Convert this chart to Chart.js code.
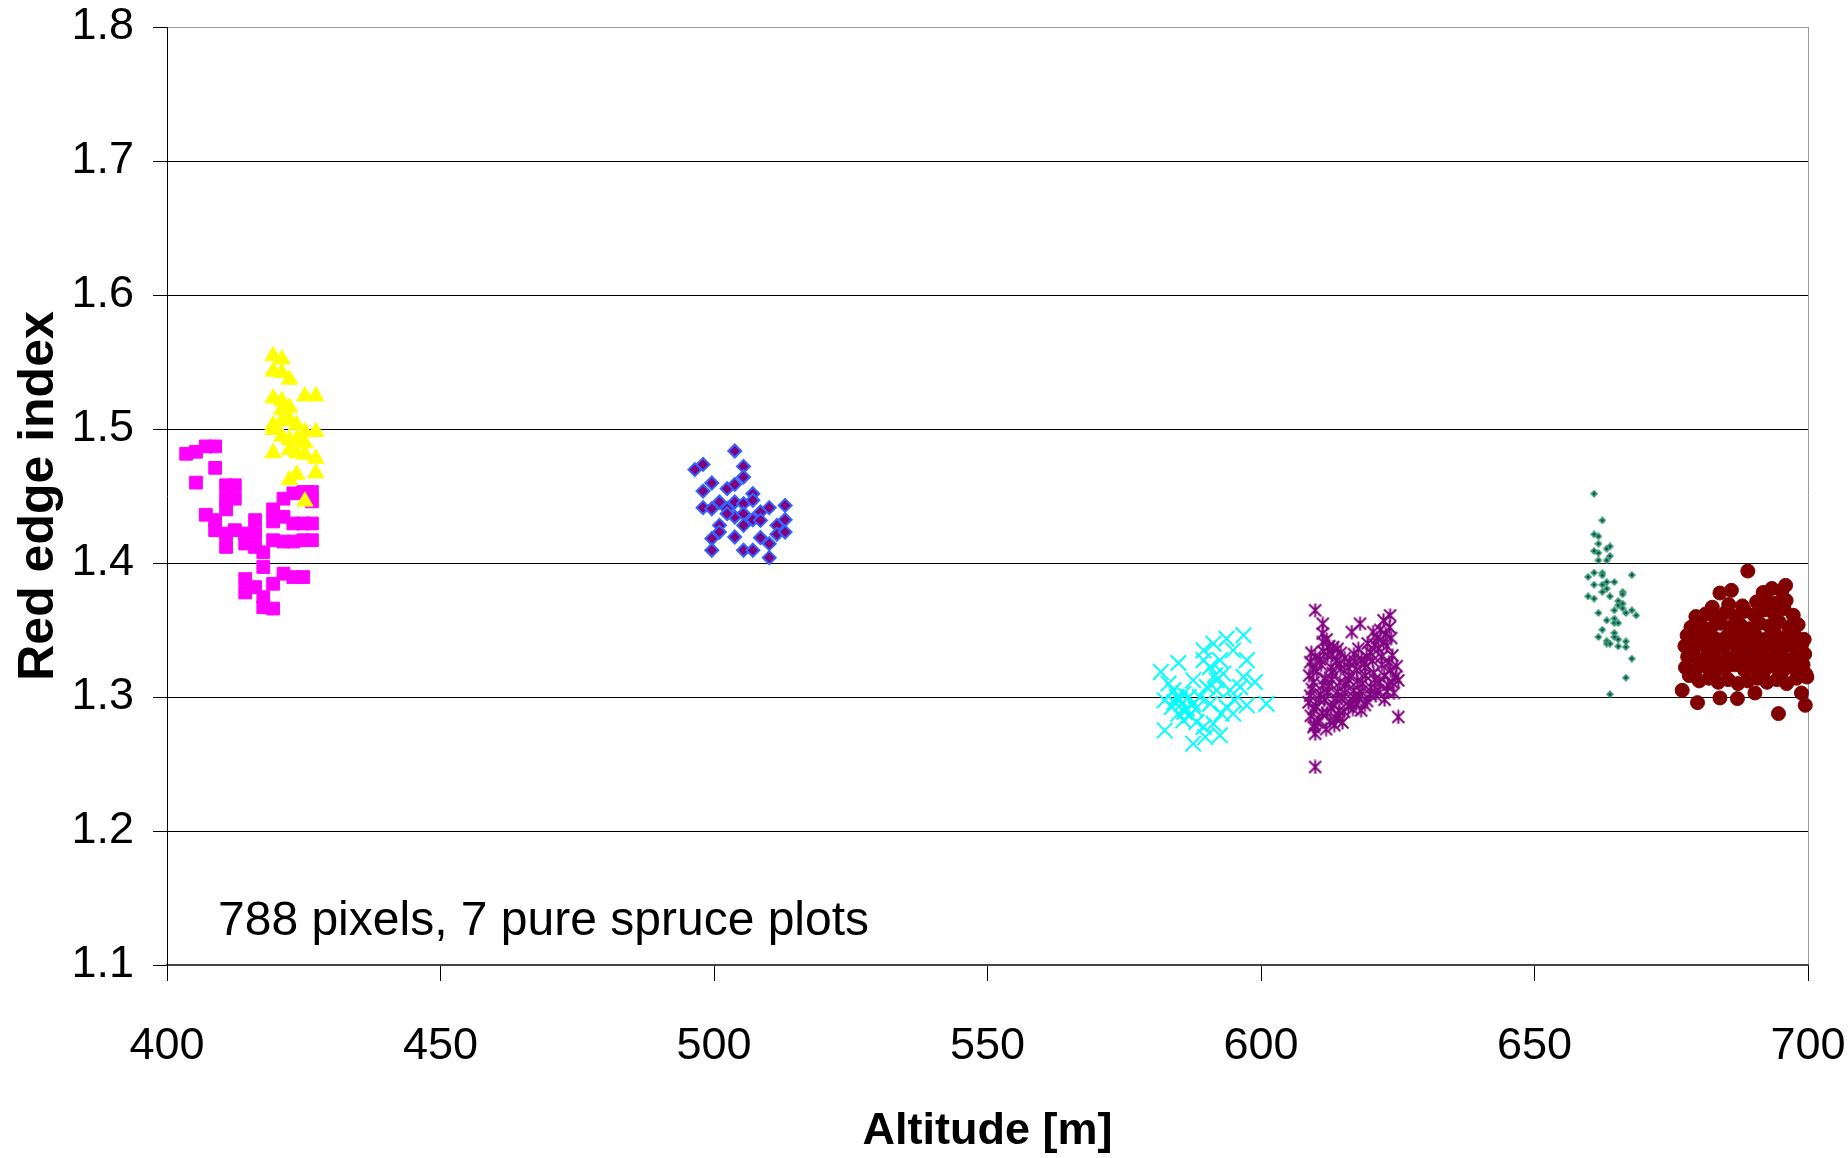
<!DOCTYPE html>
<html>
<head>
<meta charset="utf-8">
<title>Red edge index vs altitude</title>
<script src="https://cdn.jsdelivr.net/npm/chart.js@4.4.0/dist/chart.umd.min.js"></script>
<style>
  html, body { margin: 0; padding: 0; background: #fff; }
  canvas { display: block; }
</style>
</head>
<body>
<canvas id="chart" width="1848" height="1158"></canvas>
<script>
// axis ticks
const xTicks = [400, 450, 500, 550, 600, 650, 700];
const yTicks = [1.1, 1.2, 1.3, 1.4, 1.5, 1.6, 1.7, 1.8];
const noteText = '788 pixels, 7 pure spruce plots';

// plot 1 (magenta squares), ~420 m
const plotMagenta = [
  [403.5,1.4815],[405.3,1.483],[407.1,1.487],[408.8,1.487],
  [408.8,1.471],[405.3,1.46],
  [410.8,1.458],[412.4,1.458],[410.8,1.448],[412.4,1.448],
  [407.1,1.436],[408.8,1.432],[410.8,1.44],
  [408.8,1.4245],[410.8,1.422],[412.4,1.4245],[414.3,1.422],[416.1,1.432],[416.1,1.422],
  [410.8,1.412],[414.3,1.4145],[416.1,1.412],[417.6,1.408],
  [419.4,1.44],[421.3,1.448],[423.1,1.452],[424.9,1.453],[426.5,1.453],[426.5,1.446],
  [419.4,1.431],[421.3,1.4345],[423.1,1.4295],[424.9,1.4295],[426.5,1.4295],
  [419.4,1.417],[421.3,1.416],[423.1,1.416],[424.9,1.417],[426.5,1.417],
  [417.6,1.397],
  [414.3,1.388],[416.1,1.382],[414.3,1.378],
  [419.4,1.3845],[421.3,1.392],[423.1,1.3895],[424.9,1.3895],
  [417.6,1.3745],[419.4,1.366],[417.6,1.367]
];

// plot 2 (yellow triangles)
const plotYellow = [
  [419.4,1.5545],[421.0,1.552],[419.4,1.543],[421.0,1.542],[422.4,1.537],
  [425.2,1.5245],[427.2,1.5245],
  [419.4,1.523],[421.0,1.521],[422.4,1.516],[421.0,1.5145],
  [419.4,1.503],[421.0,1.506],[422.4,1.507],[423.7,1.503],[425.2,1.498],[427.2,1.498],
  [419.4,1.4995],[421.0,1.4945],[422.4,1.492],[423.7,1.492],[425.2,1.4895],
  [419.4,1.482],[422.4,1.4845],[423.7,1.482],[425.2,1.481],[427.2,1.478],
  [422.4,1.462],[423.7,1.466],[427.2,1.467],
  [425.2,1.446]
];

// plot 3 (blue-edged diamonds), ~505 m
const plotBlue = [
  [503.8,1.4836],[496.5,1.4697],[498.0,1.4736],[505.4,1.4721],[505.4,1.4642],
  [499.6,1.4597],[498.0,1.4537],[502.4,1.4555],[503.8,1.4587],[507.1,1.4517],
  [501.0,1.4455],[503.8,1.4455],[505.4,1.4443],[507.1,1.4468],[498.0,1.4413],
  [499.6,1.4405],[502.4,1.4405],[503.8,1.4343],[505.4,1.4368],[508.5,1.4381],
  [510.1,1.4413],[513.0,1.443],[507.1,1.4323],[508.5,1.4318],[513.0,1.4323],
  [511.5,1.4281],[501.0,1.4281],[501.0,1.4231],[499.6,1.4182],[503.8,1.4194],
  [505.4,1.4281],[508.5,1.4189],[510.1,1.4144],[511.5,1.4214],[513.0,1.4231],
  [499.6,1.4095],[505.4,1.4095],[507.1,1.4095],[510.1,1.404],[502.4,1.4368]
];

// plot 4 (cyan crosses), ~590 m
const plotCyan = [
  [581.7,1.3187],[584.9,1.3254],[583.1,1.31],[584.0,1.305],[582.4,1.2975],
  [584.6,1.3],[585.8,1.3025],[585.5,1.295],[583.7,1.2925],[586.4,1.2913],
  [587.6,1.295],[587.0,1.2863],[584.9,1.2876],[585.8,1.2826],[588.2,1.2813],
  [582.4,1.2751],[587.6,1.2652],[589.8,1.2701],[592.5,1.2714],[591.3,1.2801],
  [589.5,1.2776],[588.8,1.3],[587.6,1.3124],[589.5,1.3348],[591.3,1.3398],
  [589.5,1.3274],[590.7,1.3224],[592.5,1.3274],[593.7,1.3435],[596.8,1.346],
  [594.9,1.3348],[591.9,1.3124],[593.1,1.3174],[590.1,1.3075],[591.9,1.305],
  [594.3,1.305],[596.2,1.3075],[597.4,1.3274],[596.8,1.3149],[598.9,1.3112],
  [595.2,1.2975],[597.4,1.2938],[601.0,1.295],[593.7,1.2925],[590.7,1.295],
  [592.8,1.2876],[594.9,1.2876],[591.6,1.3162],
  [585.2,1.298],[586.8,1.3],[586.0,1.289],[588.0,1.291],[584.2,1.296]
];

// plot 5 (purple asterisks), ~615 m
const plotPurple = [
  [609.9,1.3647],[611.3,1.3547],[611.3,1.3473],[611.3,1.341],[609.9,1.2478],
  [609.9,1.2726],[609.6,1.2776],[625.1,1.2851],[625.1,1.3124],[623.6,1.3609],
  [618.1,1.3547],[616.6,1.3485],[620.5,1.3485],[622.4,1.3572],[613.2,1.3373],
  [609.2,1.333],[612.0,1.343],
  [612.5,1.338],[614.0,1.336],[619.5,1.34],[621.2,1.344],[622.8,1.347],[623.5,1.352],[621.8,1.35],
  [609.0,1.326],[610.8,1.328],[612.2,1.331],[613.8,1.327],[615.3,1.329],[617.0,1.332],
  [618.4,1.328],[620.0,1.333],[621.5,1.336],[623.0,1.338],[624.0,1.331],
  [608.8,1.316],[610.2,1.319],[611.7,1.314],[613.1,1.318],[614.6,1.321],[616.1,1.316],
  [617.5,1.32],[619.0,1.322],[620.6,1.318],[622.1,1.324],[623.7,1.32],[624.6,1.315],
  [609.3,1.306],[610.9,1.302],[612.4,1.308],[614.0,1.304],[615.5,1.309],[617.0,1.305],
  [618.6,1.31],[620.1,1.307],[621.7,1.311],[623.2,1.309],[624.3,1.303],
  [608.7,1.296],[610.1,1.293],[611.6,1.298],[613.3,1.294],[614.8,1.299],[616.4,1.295],
  [617.9,1.3],[619.4,1.297],[621.0,1.301],[622.6,1.298],
  [609.1,1.286],[610.6,1.283],[612.1,1.288],[613.7,1.284],[615.2,1.289],[616.8,1.291],[618.3,1.29],
  [609.8,1.279],[611.9,1.276],[613.4,1.279],[614.9,1.281],
  [609.9,1.33],[611.4,1.334],[613.0,1.332],[614.6,1.333],[616.2,1.326],[617.8,1.336],
  [619.3,1.33],[620.8,1.339],[622.4,1.341],[623.8,1.344],
  [609.5,1.321],[611.0,1.324],[612.8,1.322],[614.3,1.325],[615.9,1.322],[617.3,1.326],
  [618.9,1.325],[620.4,1.327],[622.0,1.33],[623.4,1.326],[624.8,1.323],
  [609.6,1.311],[611.3,1.309],[612.9,1.313],[614.4,1.311],[616.0,1.313],[617.6,1.312],
  [619.1,1.316],[620.8,1.313],[622.5,1.316],[624.0,1.311],
  [609.0,1.301],[610.6,1.298],[612.1,1.303],[613.7,1.299],[615.3,1.303],[616.9,1.3],
  [618.3,1.304],[619.9,1.302],[621.4,1.305],[623.0,1.304],
  [609.6,1.291],[611.2,1.288],[612.8,1.292],[614.3,1.29],[616.0,1.293],[617.4,1.295],[619.0,1.294],
  [610.3,1.281],[612.6,1.282],[614.2,1.286]
];

// plot 6 (small green diamonds), ~663 m
const plotGreen = [
  [660.9,1.4517],[662.4,1.4318],[660.9,1.4214],[661.7,1.4199],[661.7,1.4144],
  [660.9,1.409],[661.7,1.4075],[663.2,1.4107],[663.8,1.4124],[663.8,1.4052],
  [661.7,1.402],[663.2,1.402],[659.8,1.3896],[660.9,1.3928],[662.4,1.3925],
  [662.4,1.3908],[667.8,1.391],[660.9,1.3838],[662.4,1.3838],[663.2,1.3858],
  [664.6,1.3858],[663.2,1.3808],[662.4,1.3784],[663.8,1.3751],[659.8,1.3751],
  [660.9,1.3734],[666.1,1.3784],[666.1,1.3766],[665.3,1.3716],[665.3,1.3684],
  [666.1,1.3697],[666.1,1.3662],[664.6,1.3647],[667.8,1.3647],[666.7,1.3627],
  [668.6,1.3609],[661.7,1.3627],[663.2,1.3572],[664.6,1.3585],[664.6,1.3552],
  [665.3,1.3552],[662.4,1.3502],[664.6,1.3478],[661.7,1.3448],[664.6,1.3448],
  [665.3,1.343],[663.2,1.3418],[663.2,1.3398],[663.8,1.3398],[665.3,1.3378],
  [666.7,1.3415],[666.7,1.3373],[667.8,1.3286],[666.7,1.3144],[663.8,1.302]
];

// plot 7 (dark red circles), ~690 m
const plotRed = [
  [689.0,1.394],[683.9,1.3776],[686.0,1.3796],[695.9,1.3833],[677.0,1.305],
  [679.8,1.2958],[683.9,1.2993],[694.6,1.2876],[699.5,1.2938],[698.8,1.303],
  [699.8,1.3149],[687.1,1.2988],[690.3,1.303],
  [678.3,1.316],[680.1,1.312],[681.9,1.314],[683.6,1.311],[685.4,1.313],[687.2,1.31],
  [689.0,1.312],[690.8,1.314],[692.5,1.311],[694.3,1.313],[696.1,1.31],[697.9,1.314],[699.6,1.317],
  [677.6,1.322],[679.4,1.32],[681.2,1.323],[683.0,1.319],[684.8,1.321],[686.6,1.324],
  [688.4,1.32],[690.1,1.322],[691.9,1.319],[693.7,1.323],[695.5,1.32],[697.3,1.322],[699.1,1.324],
  [678.0,1.33],[679.8,1.328],[681.6,1.331],[683.4,1.327],[685.2,1.329],[687.0,1.332],
  [688.8,1.328],[690.5,1.33],[692.3,1.327],[694.1,1.331],[695.9,1.328],[697.7,1.33],[699.4,1.332],
  [677.5,1.338],[679.2,1.336],[681.0,1.339],[682.8,1.335],[684.6,1.337],[686.4,1.34],
  [688.2,1.336],[690.0,1.338],[691.7,1.335],[693.5,1.339],[695.3,1.336],[697.1,1.338],[698.9,1.34],
  [677.9,1.346],[679.7,1.344],[681.5,1.347],[683.3,1.343],[685.1,1.345],[686.9,1.348],
  [688.7,1.344],[690.4,1.346],[692.2,1.343],[694.0,1.347],[695.8,1.344],[697.6,1.346],[699.3,1.343],
  [678.6,1.352],[680.4,1.354],[682.2,1.351],[684.0,1.355],[685.8,1.352],[687.6,1.354],
  [689.3,1.351],[691.1,1.355],[692.9,1.353],[694.7,1.356],[696.5,1.352],[698.2,1.354],
  [679.5,1.36],[681.3,1.362],[683.1,1.359],[684.9,1.363],[686.7,1.36],[688.5,1.364],
  [690.2,1.361],[692.0,1.365],[693.8,1.362],[695.6,1.366],[697.3,1.361],
  [682.5,1.367],[685.5,1.369],[688.0,1.368],[690.6,1.371],[692.4,1.373],[694.2,1.37],[696.0,1.372],
  [691.8,1.378],[693.4,1.381],[695.2,1.379]
];

const toXY = arr => arr.map(p => ({ x: p[0], y: p[1] }));

// Excel-like asterisk marker: X plus vertical bar
function asteriskMarker(size, color) {
    const c = document.createElement('canvas');
    c.width = size; c.height = size;
    const g = c.getContext('2d');
    g.strokeStyle = color;
    g.lineWidth = 2;
    const m = 1.5;
    g.beginPath();
    g.moveTo(m, m); g.lineTo(size - m, size - m);
    g.moveTo(size - m, m); g.lineTo(m, size - m);
    g.moveTo(size / 2, 0.5); g.lineTo(size / 2, size - 0.5);
    g.stroke();
    return c;
}

// small green diamond with a dark dot in the middle
function dotDiamond(size, color, dot) {
    const c = document.createElement('canvas');
    c.width = size; c.height = size;
    const g = c.getContext('2d');
    const h = size / 2;
    g.fillStyle = color;
    g.beginPath();
    g.moveTo(h, 0); g.lineTo(size, h); g.lineTo(h, size); g.lineTo(0, h);
    g.closePath();
    g.fill();
    g.fillStyle = dot;
    g.fillRect(h - 1, h - 1, 2, 2);
    return c;
}

const SANS = "'Liberation Sans', Arial, Helvetica, sans-serif";

const notePlugin = {
    id: 'note',
    afterDraw(chart) {
        const { ctx, chartArea } = chart;
        ctx.save();
        ctx.font = '48px ' + SANS;
        ctx.fillStyle = '#000';
        ctx.textAlign = 'left';
        ctx.textBaseline = 'alphabetic';
        ctx.fillText(noteText, chartArea.left + 51, chartArea.bottom - 30);
        ctx.restore();
    }
};

const ctx = document.getElementById('chart').getContext('2d');
new Chart(ctx, {
    type: 'scatter',
    data: {
        datasets: [
            { label: 'plot 2', data: toXY(plotYellow), pointStyle: 'triangle', pointRadius: 9.5,
              backgroundColor: '#FFFF00', borderColor: '#FFFF00', borderWidth: 1 },
            { label: 'plot 1', data: toXY(plotMagenta), pointStyle: 'rect', pointRadius: 9,
              backgroundColor: '#FF00FF', borderColor: '#FF00FF', borderWidth: 1 },
            { label: 'plot 3', data: toXY(plotBlue), pointStyle: 'rectRot', pointRadius: 6.5,
              backgroundColor: '#800080', borderColor: '#3366FF', borderWidth: 2 },
            { label: 'plot 4', data: toXY(plotCyan), pointStyle: 'crossRot', pointRadius: 11,
              backgroundColor: '#00FFFF', borderColor: '#00FFFF', borderWidth: 2 },
            { label: 'plot 5', data: toXY(plotPurple), pointStyle: asteriskMarker(15, '#800080'), pointRadius: 7,
              backgroundColor: '#800080', borderColor: '#800080' },
            { label: 'plot 6', data: toXY(plotGreen), pointStyle: dotDiamond(8, '#339966', '#1A237E'), pointRadius: 4,
              backgroundColor: '#339966', borderColor: '#339966' },
            { label: 'plot 7', data: toXY(plotRed), pointStyle: 'circle', pointRadius: 7, clip: false,
              backgroundColor: '#800000', borderColor: '#800000', borderWidth: 1 }
        ]
    },
    options: {
        responsive: false,
        animation: false,
        layout: { padding: { top: 27, right: 40, left: 0, bottom: 0 } },
        plugins: {
            legend: { display: false },
            tooltip: { enabled: false }
        },
        scales: {
            x: {
                type: 'linear',
                min: xTicks[0],
                max: xTicks[xTicks.length - 1],
                afterBuildTicks: s => { s.ticks = xTicks.map(v => ({ value: v })); },
                afterFit: s => { s.height = 193; s.paddingLeft = 0; s.paddingRight = 0; },
                ticks: { color: '#000', padding: 39, maxRotation: 0, font: { family: SANS, size: 45 } },
                grid: {
                    drawOnChartArea: true,
                    color: c => (c.tick && c.tick.value === 700) ? '#999999' : 'rgba(0,0,0,0)',
                    tickColor: '#000',
                    tickLength: 16,
                    lineWidth: 1
                },
                border: { color: '#444', width: 2 },
                title: {
                    display: true,
                    text: 'Altitude [m]',
                    color: '#000',
                    font: { family: SANS, size: 45, weight: 'bold', lineHeight: 1.1 },
                    padding: { top: 0, bottom: 2 }
                }
            },
            y: {
                min: yTicks[0],
                max: yTicks[yTicks.length - 1],
                afterBuildTicks: s => { s.ticks = yTicks.map(v => ({ value: v })); },
                afterFit: s => { s.width = 167; s.paddingTop = 0; s.paddingBottom = 0; },
                ticks: { color: '#000', padding: 19, font: { family: SANS, size: 45 },
                         callback: v => v.toFixed(1) },
                grid: {
                    color: c => {
                        if (!c.tick) return '#000';
                        if (Math.abs(c.tick.value - 1.8) < 1e-6) return '#999999';
                        if (Math.abs(c.tick.value - 1.1) < 1e-6) return 'rgba(0,0,0,0)';
                        return '#000';
                    },
                    tickColor: '#000',
                    tickLength: 14,
                    lineWidth: 1
                },
                border: { color: '#000', width: 1 },
                title: {
                    display: true,
                    text: 'Red edge index',
                    color: '#000',
                    font: { family: SANS, size: 50, weight: 'bold', lineHeight: 1.2 },
                    padding: { top: 9, bottom: 0 }
                }
            }
        }
    },
    plugins: [notePlugin]
});
</script>
</body>
</html>
